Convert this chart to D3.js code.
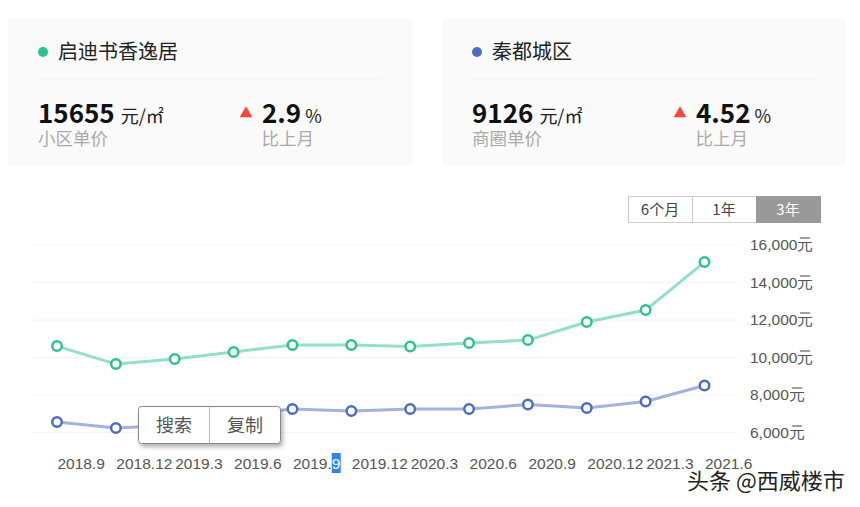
<!DOCTYPE html>
<html>
<head>
<meta charset="utf-8">
<script src="https://cdnjs.cloudflare.com/ajax/libs/d3/7.8.5/d3.min.js"></script>
<style>
html, body { margin: 0; padding: 0; background: #fff; }
svg { display: block; font-family: "Noto Sans CJK SC", "Noto Sans", sans-serif; }
.grid line { stroke: #f4f4f4; }
.tick text { fill: #555; font-size: 15.5px; }
</style>
</head>
<body>
<svg id="chart" width="860" height="507"></svg>
<script>
const months     = ['2018.9','2018.12','2019.3','2019.6','2019.9','2019.12','2020.3','2020.6','2020.9','2020.12','2021.3','2021.6'];
const community  = [10610, 9650, 9920, 10290, 10670, 10670, 10590, 10770, 10930, 11890, 12530, 15090];
const district   = [6560, 6240, 6400, 6900, 7250, 7150, 7250, 7250, 7490, 7310, 7650, 8510];
const yTicks     = [6000, 8000, 10000, 12000, 14000, 16000];

const cardNames  = ['启迪书香逸居', '秦都城区'];
const cardPrices = ['15655', '9126'];
const cardLabels = ['小区单价', '商圈单价'];
const cardRises  = ['2.9', '4.52'];
const cardColors = ['#2ec28f', '#4f6bc4'];
const ranges     = ['6个月', '1年', '3年'];

const svg = d3.select('#chart');

// верхние карточки
const cardX = d3.scalePoint().domain(cardNames).range([8, 442]);
const card = svg.selectAll('g.card').data(cardNames).join('g')
    .attr('class', 'card')
    .attr('transform', d => `translate(${cardX(d)},19)`);

card.append('rect').attr('width', 404).attr('height', 146).attr('rx', 2).attr('fill', '#fafafa');
card.append('line').attr('x1', 30).attr('x2', 375).attr('y1', 61).attr('y2', 61).attr('stroke', '#f1f1f1');
card.append('circle').attr('cx', 35).attr('cy', 33).attr('r', 5).attr('fill', (d, i) => cardColors[i]);
card.append('text').attr('x', 50).attr('y', 40).attr('font-size', 20).attr('fill', '#222').text(d => d);

const price = card.append('text').attr('x', 30).attr('y', 104).attr('fill', '#111');
price.append('tspan').attr('font-size', 26).attr('font-weight', 700).text((d, i) => cardPrices[i]);
price.append('tspan').attr('dx', 6).attr('font-size', 18).attr('fill', '#222').text('元/㎡');
card.append('text').attr('x', 30).attr('y', 126).attr('font-size', 17.5).attr('fill', '#aaa').text((d, i) => cardLabels[i]);

card.append('path').attr('d', d3.symbol(d3.symbolTriangle, 70)).attr('fill', '#f4483a')
    .attr('transform', 'translate(238,94.5)');
const rise = card.append('text').attr('x', 254).attr('y', 104).attr('fill', '#111');
rise.append('tspan').attr('font-size', 26).attr('font-weight', 700).text((d, i) => cardRises[i]);
rise.append('tspan').attr('dx', 4).attr('font-size', 18).attr('fill', '#222').text('%');
card.append('text').attr('x', 253.5).attr('y', 126).attr('font-size', 17.5).attr('fill', '#aaa').text('比上月');

// переключатель периода
const rangeX = d3.scaleBand().domain(ranges).range([628, 820]);
const range = svg.selectAll('g.range').data(ranges).join('g').attr('class', 'range');
range.append('rect')
    .attr('x', d => rangeX(d) + 0.5).attr('y', 196.5)
    .attr('width', rangeX.bandwidth()).attr('height', 26)
    .attr('fill', d => d === '3年' ? '#999' : '#fff')
    .attr('stroke', d => d === '3年' ? '#999' : '#ccc');
range.append('text')
    .attr('x', d => rangeX(d) + rangeX.bandwidth() / 2).attr('y', 215)
    .attr('text-anchor', 'middle').attr('font-size', 15)
    .attr('fill', d => d === '3年' ? '#fff' : '#444')
    .text(d => d);

// шкалы
const x = d3.scalePoint().domain(months).range([57, 704.5]);
const y = d3.scaleLinear().domain([6000, 16000]).range([432.5, 245]);

svg.append('g').attr('class', 'grid')
    .selectAll('line').data(yTicks).join('line')
    .attr('x1', 33).attr('x2', 738)
    .attr('y1', d => y(d)).attr('y2', d => y(d));

const yAxis = svg.append('g').attr('transform', 'translate(750,0)')
    .call(d3.axisRight(y).tickValues(yTicks).tickSize(0).tickPadding(0).tickFormat(d => d3.format(',')(d) + '元'));
yAxis.select('.domain').remove();

const xAxis = svg.append('g').attr('transform', 'translate(0,451)')
    .call(d3.axisBottom(x).tickSize(0).tickPadding(0));
xAxis.select('.domain').remove();
xAxis.selectAll('text').attr('text-anchor', 'start').attr('dy', '1.15em');

// выделенная цифра в подписи 2019.9
const selTick = xAxis.selectAll('.tick').filter(d => d === '2019.9');
const selText = selTick.select('text');
const selBox  = selText.node().getExtentOfChar(5);
selTick.insert('rect', 'text')
    .attr('x', selBox.x).attr('y', 2).attr('width', 9).attr('height', 20).attr('fill', '#2e86ea');
selText.text('2019.').append('tspan').attr('fill', '#fff').text('9');

// линии
const line = d3.line().x((d, i) => x(months[i])).y(d => y(d));
const seriesList = [community, district];
const lineColors = ['#93e0c4', '#a5b2e0'];

seriesList.forEach((values, k) => {
    svg.append('path').datum(values)
        .attr('fill', 'none').attr('stroke', lineColors[k]).attr('stroke-width', 3)
        .attr('d', line);
    svg.append('g').selectAll('circle').data(values).join('circle')
        .attr('cx', (d, i) => x(months[i])).attr('cy', d => y(d)).attr('r', 4.75)
        .attr('fill', '#fff').attr('stroke', cardColors[k]).attr('stroke-width', 2.5);
});

// всплывающее меню
const defs = svg.append('defs');
defs.append('filter').attr('id', 'shadow').attr('x', '-10%').attr('y', '-20%').attr('width', '125%').attr('height', '150%')
    .append('feDropShadow').attr('dx', 2).attr('dy', 3).attr('stdDeviation', 2).attr('flood-color', '#000').attr('flood-opacity', 0.3);

const menu = svg.append('g').attr('transform', 'translate(138.5,406.5)');
menu.append('rect').attr('width', 142).attr('height', 37).attr('rx', 3)
    .attr('fill', '#fff').attr('stroke', '#888').attr('filter', 'url(#shadow)');
menu.append('line').attr('x1', 71).attr('x2', 71).attr('y1', 0).attr('y2', 37).attr('stroke', '#bbb');
menu.append('text').attr('x', 35.5).attr('y', 25).attr('text-anchor', 'middle').attr('font-size', 18).attr('fill', '#555').text('搜索');
menu.append('text').attr('x', 106.5).attr('y', 25).attr('text-anchor', 'middle').attr('font-size', 18).attr('fill', '#555').text('复制');

// водяной знак
svg.append('text').attr('x', 687).attr('y', 489)
    .attr('font-size', 22).attr('fill', '#222')
    .attr('stroke', '#fff').attr('stroke-width', 3).attr('paint-order', 'stroke')
    .text('头条 @西威楼市');
</script>
</body>
</html>
